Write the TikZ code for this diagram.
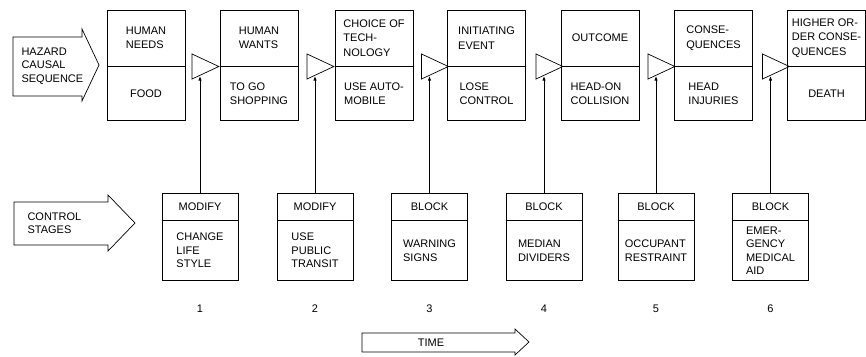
\documentclass[tikz,border=0pt]{standalone}
\usepackage{fontspec}
\setmainfont{Liberation Sans}
\usetikzlibrary{positioning,shapes.geometric,arrows.meta}

\tikzset{
  stage/.style={draw, line width=.7pt, minimum width=78pt, inner sep=1pt, align=left, font=\fontsize{11}{14.5}\selectfont},
  stagetop/.style={stage, minimum height=56pt},
  stagelow/.style={stage, minimum height=54pt},
  ctrltop/.style={stage, minimum width=76pt, minimum height=27pt},
  ctrllow/.style={stage, minimum width=76pt, minimum height=60pt, font=\fontsize{11}{13.5}\selectfont},
  gate/.style={draw, line width=.7pt, isosceles triangle, isosceles triangle apex angle=50, inner sep=0pt, minimum height=23pt, minimum width=25pt},
  feed/.style={line width=1pt, -{Latex[length=5pt,width=3.5pt]}},
  bigarrow/.style={draw, line width=.7pt, line join=miter},
  lbl/.style={font=\fontsize{11}{13.5}\selectfont, align=left}
}

\begin{document}
\begin{tikzpicture}[x=1pt, y=-1pt]
  \useasboundingbox (0,0) rectangle (866,356);

  \draw[bigarrow] (13,37) -- (82,37) -- (82,29) -- (99,65) -- (82,101) -- (82,96) -- (13,96) -- cycle;
  \node[lbl, anchor=west] (haz) at (18,66) {HAZARD\\CAUSAL\\SEQUENCE};
  \draw[bigarrow] (14,202) -- (108,202) -- (108,195) -- (135,223) -- (108,251) -- (108,245) -- (14,245) -- cycle;
  \node[lbl, anchor=west] (ctl) at (24,223) {CONTROL\\STAGES};
  \draw[bigarrow] (362,333) -- (515,333) -- (515,329) -- (529,342) -- (515,355) -- (515,352) -- (362,352) -- cycle;
  \node[lbl] (time) at (431,342.5) {TIME};

  \node[stagetop] (s1) at (146,38) {HUMAN\\NEEDS};
  \node[stagelow, below=0pt of s1] (r1) {FOOD};
  \node[stagetop] (s2) at (259,38) {HUMAN\\WANTS};
  \node[stagelow, below=0pt of s2] (r2) {TO GO\\SHOPPING};
  \node[stagetop] (s3) at (374,38) {CHOICE OF\\TECH-\\NOLOGY};
  \node[stagelow, below=0pt of s3] (r3) {USE AUTO-\\MOBILE};
  \node[stagetop] (s4) at (486.5,38) {INITIATING\\EVENT};
  \node[stagelow, below=0pt of s4] (r4) {LOSE\\CONTROL};
  \node[stagetop] (s5) at (600,38) {OUTCOME};
  \node[stagelow, below=0pt of s5] (r5) {HEAD-ON\\COLLISION};
  \node[stagetop] (s6) at (713.5,38) {CONSE-\\QUENCES};
  \node[stagelow, below=0pt of s6] (r6) {HEAD\\INJURIES};
  \node[stagetop] (s7) at (826.5,38) {HIGHER OR-\\DER CONSE-\\QUENCES};
  \node[stagelow, below=0pt of s7] (r7) {DEATH};

  \node[gate] (t1) at (200,66.5) {};
  \node[gate] (t2) at (315,66.5) {};
  \node[gate] (t3) at (429.5,66.5) {};
  \node[gate] (t4) at (544,66.5) {};
  \node[gate] (t5) at (656,66.5) {};
  \node[gate] (t6) at (770.5,66.5) {};

  \node[ctrltop] (c1) at (200,206.5) {MODIFY};
  \node[ctrllow, below=0pt of c1] (d1) {CHANGE\\LIFE\\STYLE};
  \node[ctrltop] (c2) at (315,206.5) {MODIFY};
  \node[ctrllow, below=0pt of c2] (d2) {USE\\PUBLIC\\TRANSIT};
  \node[ctrltop] (c3) at (429.5,206.5) {BLOCK};
  \node[ctrllow, below=0pt of c3] (d3) {WARNING\\SIGNS};
  \node[ctrltop] (c4) at (544,206.5) {BLOCK};
  \node[ctrllow, below=0pt of c4] (d4) {MEDIAN\\DIVIDERS};
  \node[ctrltop] (c5) at (656,206.5) {BLOCK};
  \node[ctrllow, below=0pt of c5] (d5) {OCCUPANT\\RESTRAINT};
  \node[ctrltop] (c6) at (770.5,206.5) {BLOCK};
  \node[ctrllow, below=0pt of c6] (d6) {EMER-\\GENCY\\MEDICAL\\AID};

  \node[lbl, inner sep=0pt, below=24pt of d1] (n1) {1};
  \node[lbl, inner sep=0pt, below=24pt of d2] (n2) {2};
  \node[lbl, inner sep=0pt, below=24pt of d3] (n3) {3};
  \node[lbl, inner sep=0pt, below=24pt of d4] (n4) {4};
  \node[lbl, inner sep=0pt, below=24pt of d5] (n5) {5};
  \node[lbl, inner sep=0pt, below=24pt of d6] (n6) {6};

  \draw[feed] (c1) -- (t1);
  \draw[feed] (c2) -- (t2);
  \draw[feed] (c3) -- (t3);
  \draw[feed] (c4) -- (t4);
  \draw[feed] (c5) -- (t5);
  \draw[feed] (c6) -- (t6);
\end{tikzpicture}
\end{document}
